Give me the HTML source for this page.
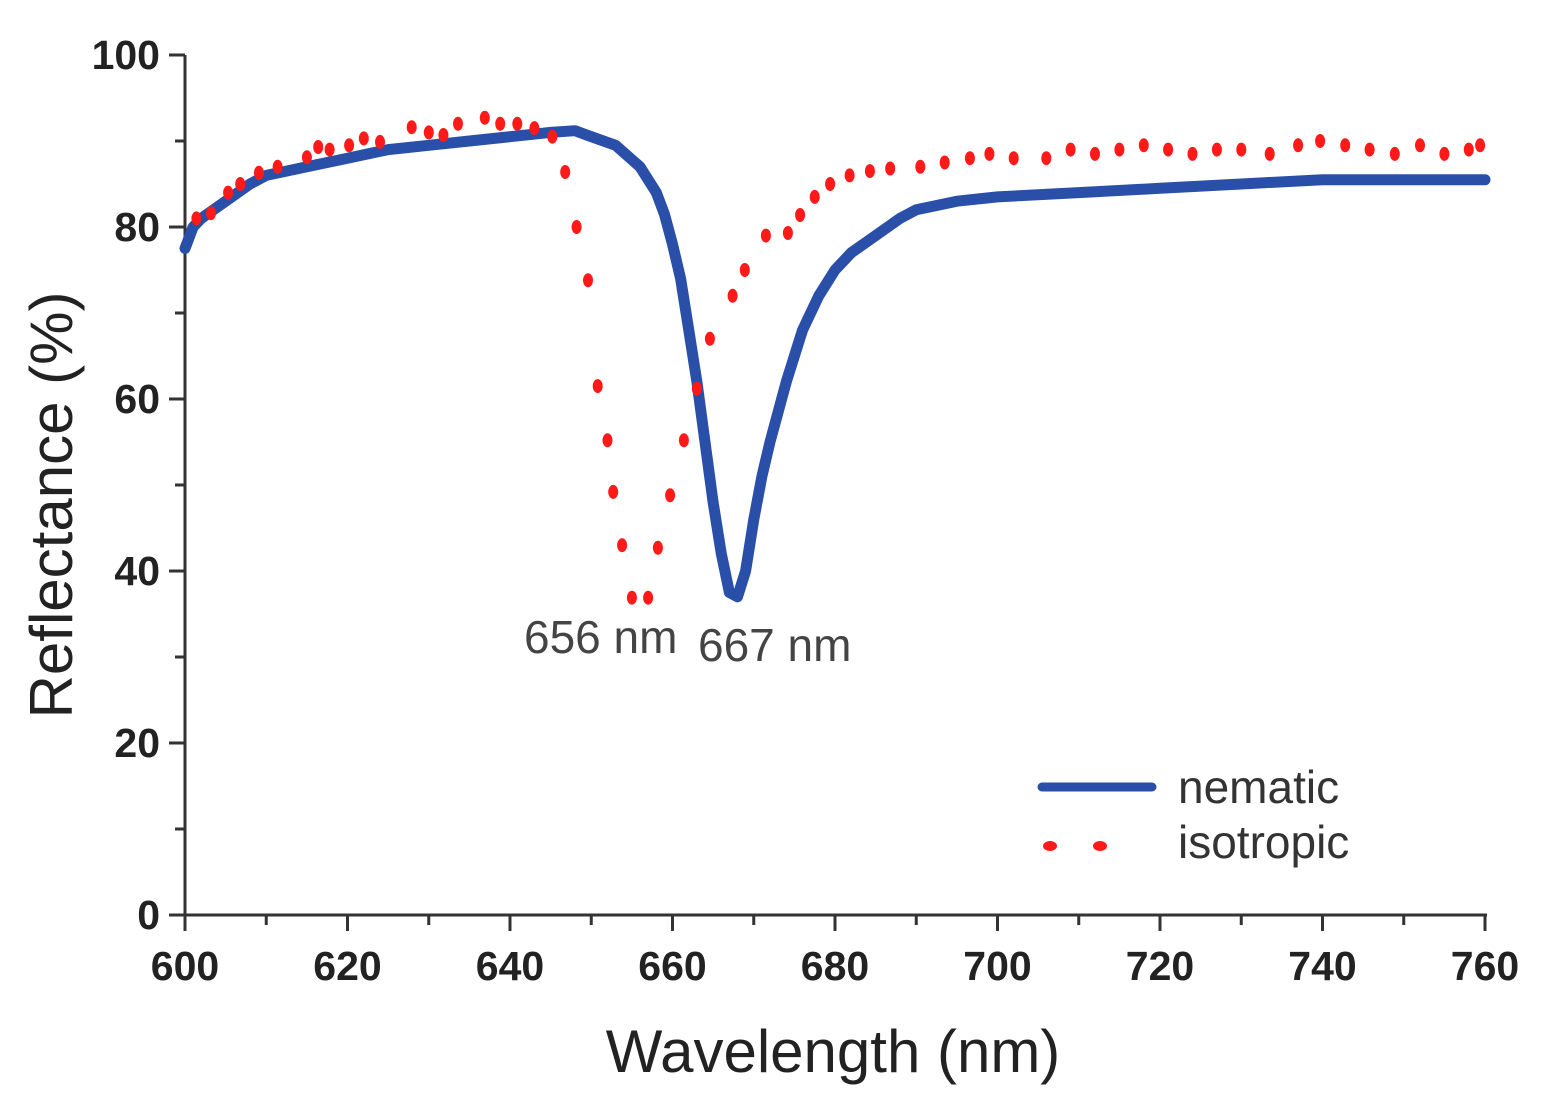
<!DOCTYPE html>
<html><head><meta charset="utf-8"><style>
html,body{margin:0;padding:0;background:#fff}
svg{display:block}
text{font-family:"Liberation Sans",sans-serif}
</style></head><body>
<svg id="chart" width="1548" height="1098" viewBox="0 0 1548 1098" xmlns="http://www.w3.org/2000/svg">
<g id="axes"></g>
<g id="series"></g>
<text x="524" y="653" font-size="46" fill="#444">656 nm</text>
<text x="698" y="661" font-size="46" fill="#444">667 nm</text>
<text transform="translate(72,505) rotate(-90)" text-anchor="middle" font-size="60" fill="#222">Reflectance (%)</text>
<text x="833" y="1072" text-anchor="middle" font-size="60" fill="#222">Wavelength (nm)</text>
<g>
<line x1="1042" y1="787" x2="1152" y2="787" stroke="#2a4fa8" stroke-width="9" stroke-linecap="round"/>
<text x="1178" y="803" font-size="46" fill="#333">nematic</text>
<ellipse cx="1050" cy="846" rx="7" ry="5" fill="#ff1a1a"/>
<ellipse cx="1100" cy="846" rx="7" ry="5" fill="#ff1a1a"/>
<text x="1178" y="858" font-size="46" fill="#333">isotropic</text>
</g>
</svg>
<script>
const xTicks = [600,620,640,660,680,700,720,740,760];
const yTicks = [0,20,40,60,80,100];
const nematicX = [600,601,602,605,608,610,615,620,625,630,635,640,645,648,650,653,656,658,659,660,661,662,663,664,665,666,667,668,669,670,671,672,674,676,678,680,682,685,688,690,695,700,710,720,730,740,750,760];
const nematicY = [77.5,80,81,83,85,86,87,88,89,89.5,90,90.5,91,91.2,90.5,89.5,87,84,81.5,78,74,68,62,55,48,42,37.5,37,40,46,51,55,62,68,72,75,77,79,81,82,83,83.5,84,84.5,85,85.5,85.5,85.5];
const isoX = [601.4,603.2,605.3,606.8,609.1,611.4,615,616.4,617.8,620.2,622,624,627.9,630,631.8,633.6,636.9,638.8,640.9,643,645.2,646.8,648.2,649.6,650.8,652,652.7,653.8,655,657,658.2,659.7,661.4,663,664.6,667.4,668.9,671.5,674.2,675.7,677.5,679.4,681.8,684.3,686.8,690.5,693.5,696.6,699,702,706,709,712,715,718,721,724,727,730,733.5,737,739.7,742.8,745.8,748.9,752,755,758,759.4];
const isoY = [81,81.6,84,85,86.3,87,88.1,89.3,89,89.5,90.3,89.9,91.6,91,90.7,92,92.7,92,92,91.5,90.5,86.4,80,73.8,61.5,55.2,49.2,43,36.9,36.9,42.7,48.8,55.2,61.2,67,72,75,79,79.3,81.4,83.5,85,86,86.5,86.8,87,87.5,88,88.5,88,88,89,88.5,89,89.5,89,88.5,89,89,88.5,89.5,90,89.5,89,88.5,89.5,88.5,89,89.5];
const NS='http://www.w3.org/2000/svg';
const X0=185,X1=1485,Y0=915,Y1=55;
function sx(v){return X0+(v-600)/(760-600)*(X1-X0);}
function sy(v){return Y0-(v-0)/100*(Y0-Y1);}
function mk(tag,attrs,parent){const e=document.createElementNS(NS,tag);for(const k in attrs)e.setAttribute(k,attrs[k]);parent.appendChild(e);return e;}
const axes=document.getElementById('axes');
let a=mk('line',{x1:X0,y1:Y0,x2:X1+2,y2:Y0,stroke:'#333','stroke-width':3},axes);


a=mk('line',{x1:X0,y1:Y0+2,x2:X0,y2:Y1,stroke:'#333','stroke-width':3},axes);


for(let v=600;v<=760;v+=10){
  const major=(v%20===0);
  const t=mk('line',{x1:sx(v),y1:Y0,x2:sx(v),y2:Y0+(major?16:10),stroke:'#333','stroke-width':3},axes);
  
  
}
for(let v=0;v<=100;v+=10){
  const major=(v%20===0);
  const t=mk('line',{x1:X0,y1:sy(v),x2:X0-(major?16:10),y2:sy(v),stroke:'#333','stroke-width':3},axes);
  
  
}
xTicks.forEach(v=>{
  const t=mk('text',{x:sx(v),y:980,'text-anchor':'middle','font-size':41,'font-weight':'bold',fill:'#222'},axes);
  t.textContent=v;
  
  
});
yTicks.forEach(v=>{
  const t=mk('text',{x:160,y:sy(v)+14,'text-anchor':'end','font-size':41,'font-weight':'bold',fill:'#222'},axes);
  t.textContent=v;
  
  
});
const series=document.getElementById('series');
const pts=nematicX.map((x,i)=>sx(x).toFixed(1)+','+sy(nematicY[i]).toFixed(1)).join(' ');
const pl=mk('polyline',{points:pts,fill:'none',stroke:'#2a4fa8','stroke-width':11,'stroke-linejoin':'round','stroke-linecap':'round'},series);


isoX.forEach((x,i)=>{
  const d=mk('ellipse',{cx:sx(x).toFixed(1),cy:sy(isoY[i]).toFixed(1),rx:5,ry:7,fill:'#ff1a1a'},series);
  
  
});
</script>
</body></html>
